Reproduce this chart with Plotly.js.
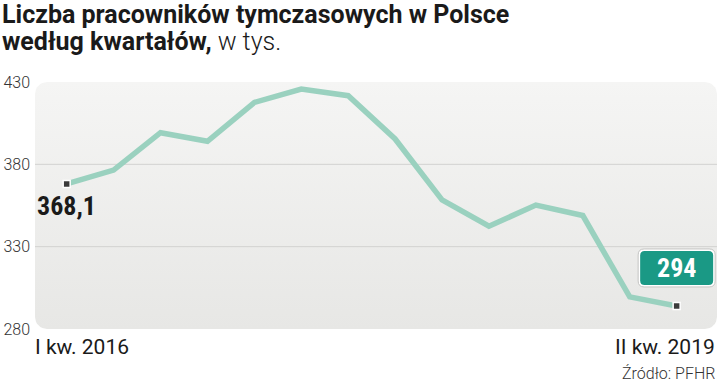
<!DOCTYPE html>
<html>
<head>
<meta charset="utf-8">
<script src="https://cdn.plot.ly/plotly-3.0.1.min.js"></script>
<style>html,body{margin:0;padding:0;background:#fff;}#chart{width:720px;height:385px;}</style>
</head>
<body>
<div id="chart"></div>
<script>
// ---- data ----
const quarters = ['I kw. 2016','II kw. 2016','III kw. 2016','IV kw. 2016',
                  'I kw. 2017','II kw. 2017','III kw. 2017','IV kw. 2017',
                  'I kw. 2018','II kw. 2018','III kw. 2018','IV kw. 2018',
                  'I kw. 2019','II kw. 2019'];
const workers = [368.1, 376.5, 399.2, 394.0, 417.6, 425.7, 421.7, 395.4,
                 358.4, 342.4, 355.3, 348.9, 299.5, 294];
const yTicks = [280, 330, 380, 430];
const gridVals = [330, 380];

const titleBold1 = 'Liczba pracowników tymczasowych w Polsce';
const titleBold2 = 'według kwartałów,';
const titleRest = ' w tys.';
const sourceText = 'Źródło: PFHR';

// ---- layout geometry ----
const W = 720, H = 385;
const M = {l: 35, r: 3, t: 82, b: 56};
const PW = W - M.l - M.r, PH = H - M.t - M.b;
const yMin = 280, yMax = 430;
const condensed = '"Liberation Sans Narrow", "Roboto Condensed", "DejaVu Sans Condensed", Roboto, sans-serif';

// rounded background panel (decoration)
function roundedPanel(r) {
  const xs = [], ys = [];
  const corners = [[PW - r, PH - r, 0], [r, PH - r, 90], [r, r, 180], [PW - r, r, 270]];
  corners.forEach(([cx, cy, a0]) => {
    for (let k = 0; k <= 8; k++) {
      const a = (a0 + k * 90 / 8) * Math.PI / 180;
      xs.push((cx + r * Math.cos(a)) / PW);
      ys.push(yMin + (cy + r * Math.sin(a)) * (yMax - yMin) / PH);
    }
  });
  xs.push(xs[0]); ys.push(ys[0]);
  return {xs, ys};
}
const panel = roundedPanel(12);

// rounded rectangle path in pixel offsets
function rrPath(x0, y0, x1, y1, r) {
  return `M${x0 + r},${y0} L${x1 - r},${y0} Q${x1},${y0} ${x1},${y0 + r} L${x1},${y1 - r} Q${x1},${y1} ${x1 - r},${y1} ` +
         `L${x0 + r},${y1} Q${x0},${y1} ${x0},${y1 - r} L${x0},${y0 + r} Q${x0},${y0} ${x0 + r},${y0} Z`;
}

const traces = [
  {x: panel.xs, y: panel.ys, xaxis: 'x', yaxis: 'y', mode: 'lines', fill: 'toself',
   line: {width: 0, color: 'rgba(0,0,0,0)'},
   fillcolor: '#eeeeec',
   fillgradient: {type: 'vertical', colorscale: [[0, '#e7e7e5'], [1, '#f5f5f4']]},
   hoverinfo: 'skip', showlegend: false}
];
gridVals.forEach(v => traces.push({
  x: [0, 1], y: [v, v], xaxis: 'x', yaxis: 'y', mode: 'lines',
  line: {color: '#d2d2d0', width: 1}, hoverinfo: 'skip', showlegend: false
}));
traces.push({
  x: quarters, y: workers, xaxis: 'x2', yaxis: 'y2', mode: 'lines',
  line: {color: '#9ad1bf', width: 5.5}, hoverinfo: 'skip', showlegend: false
});
const last = quarters.length - 1;
traces.push({
  x: [quarters[0], quarters[last]], y: [workers[0], workers[last]],
  xaxis: 'x2', yaxis: 'y2', mode: 'markers',
  marker: {symbol: 'square', size: 7, color: '#3b3b3b', line: {color: '#ffffff', width: 1.5}},
  hoverinfo: 'skip', showlegend: false
});

const fmt = v => String(v).replace('.', ',');
const paperX0 = -M.l / PW;
const pyToPaper = py => (H - M.b - py) / PH;

const layout = {
  width: W, height: H, margin: M,
  paper_bgcolor: '#ffffff', plot_bgcolor: 'rgba(0,0,0,0)',
  showlegend: false,
  font: {family: 'Roboto, sans-serif', color: '#222'},
  xaxis: {range: [0, 1], visible: false, fixedrange: true},
  yaxis: {range: [yMin, yMax], tickvals: yTicks, ticktext: yTicks.map(String),
          showgrid: false, zeroline: false, showline: false, ticks: '', ticklabelstandoff: 4,
          tickfont: {family: 'Roboto', size: 16, color: '#333', weight: 300}, fixedrange: true},
  xaxis2: {type: 'category', overlaying: 'x', range: [-0.675, 13.86], visible: false},
  yaxis2: {overlaying: 'y', range: [yMin, yMax], visible: false},
  shapes: [
    {type: 'path', xref: 'x2', yref: 'y2', xsizemode: 'pixel', ysizemode: 'pixel',
     xanchor: quarters[last], yanchor: workers[last],
     path: rrPath(-38.5, 19, 38.5, 57, 6), fillcolor: '#ffffff', line: {color: '#c4c4c2', width: 1}},
    {type: 'path', xref: 'x2', yref: 'y2', xsizemode: 'pixel', ysizemode: 'pixel',
     xanchor: quarters[last], yanchor: workers[last],
     path: rrPath(-36.5, 21, 36.5, 55, 4.5), fillcolor: '#1a9985', line: {width: 0}}
  ],
  annotations: [
    {xref: 'paper', yref: 'paper', x: paperX0, y: pyToPaper(14), xanchor: 'left', yanchor: 'middle',
     xshift: 0, showarrow: false, text: '<b>' + titleBold1 + '</b>',
     font: {family: 'Roboto', size: 25, color: '#1a1a1a'}},
    {xref: 'paper', yref: 'paper', x: paperX0, y: pyToPaper(41.5), xanchor: 'left', yanchor: 'middle',
     xshift: 0, showarrow: false,
     text: '<b>' + titleBold2 + '</b><span style="font-weight:300">' + titleRest + '</span>',
     font: {family: 'Roboto', size: 25, color: '#1a1a1a'}},
    {xref: 'x2', yref: 'y2', x: quarters[0], y: workers[0], text: '<b>' + fmt(workers[0]) + '</b>',
     showarrow: false, xanchor: 'left', yanchor: 'middle', xshift: -32, yshift: -22,
     font: {family: condensed, size: 26, color: '#1a1a1a'}},
    {xref: 'x2', yref: 'y2', x: quarters[last], y: workers[last], text: '<b>' + fmt(workers[last]) + '</b>',
     showarrow: false, xanchor: 'center', yanchor: 'middle', yshift: 38,
     font: {family: condensed, size: 26, color: '#ffffff'}},
    {xref: 'paper', yref: 'paper', x: 0, y: 0, text: quarters[0], showarrow: false,
     xanchor: 'left', yanchor: 'top', yshift: -4, xshift: -2,
     font: {family: 'Roboto', size: 21, color: '#1a1a1a'}},
    {xref: 'paper', yref: 'paper', x: 1, y: 0, text: quarters[last], showarrow: false,
     xanchor: 'right', yanchor: 'top', yshift: -4, xshift: 0,
     font: {family: 'Roboto', size: 21, color: '#1a1a1a'}},
    {xref: 'paper', yref: 'paper', x: 1, y: 0, text: sourceText, showarrow: false,
     xanchor: 'right', yanchor: 'top', yshift: -33, xshift: 0,
     font: {family: 'Roboto', size: 16, color: '#333', weight: 300}}
  ]
};

Plotly.newPlot('chart', traces, layout, {staticPlot: true, displayModeBar: false});
</script>
</body>
</html>
